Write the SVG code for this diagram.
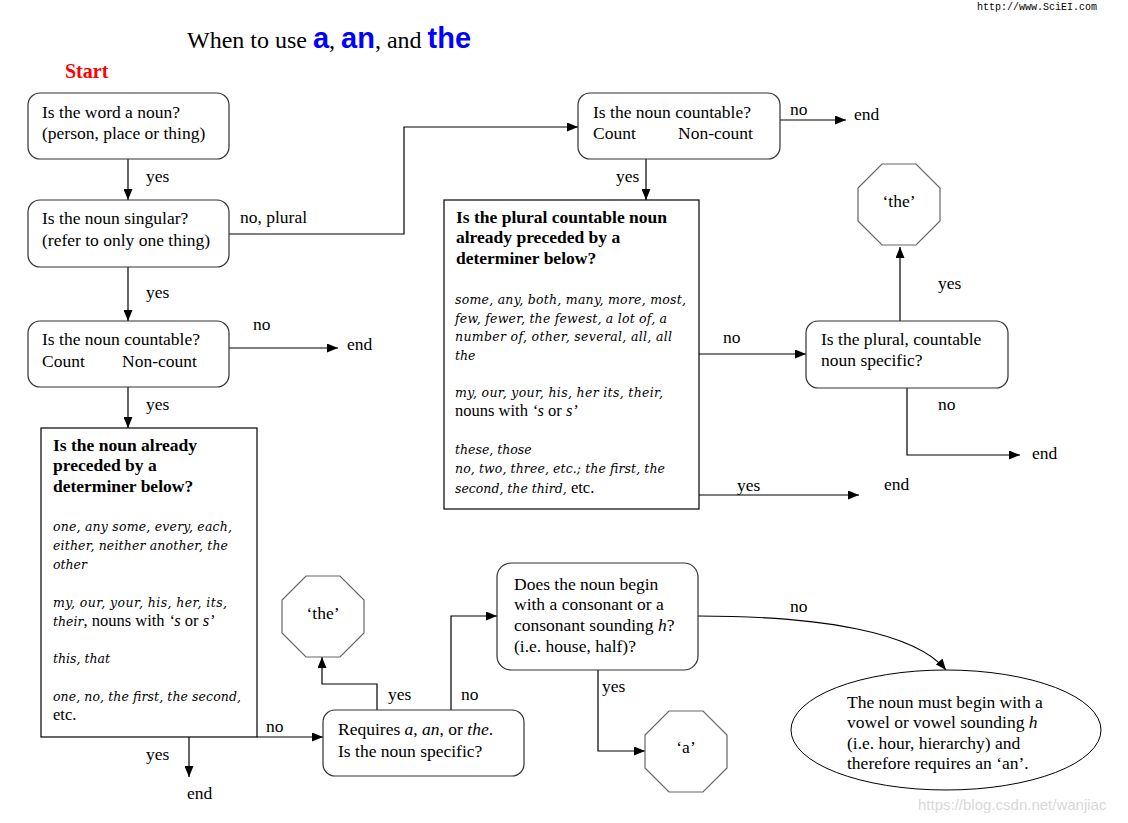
<svg xmlns="http://www.w3.org/2000/svg" width="1128" height="823" viewBox="0 0 1128 823">
<style>
.t{font-family:"Liberation Serif","Times New Roman",serif;font-size:17.5px;fill:#000}
.b{font-family:"Liberation Serif","Times New Roman",serif;font-size:17.5px;font-weight:bold;fill:#000}
.i{font-family:"DejaVu Serif",serif;font-style:italic;font-size:12.5px;fill:#000}
.r{font-family:"Liberation Serif","Times New Roman",serif;font-size:16.5px;fill:#000}
.ri{font-family:"Liberation Serif","Times New Roman",serif;font-size:16.5px;font-style:italic}
.box{fill:#fff;stroke:#333;stroke-width:1.2}
.sq{fill:#fff;stroke:#000;stroke-width:1.2}
.oct{fill:#fff;stroke:#666;stroke-width:1.2}
.c{fill:none;stroke:#000;stroke-width:1.2}
.blue{font-family:"Liberation Sans",Arial,sans-serif;font-weight:bold;font-size:29px;fill:#0000ff}
</style>
<defs>
<marker id="ah" markerWidth="11" markerHeight="9" refX="11" refY="4.5" orient="auto" markerUnits="userSpaceOnUse">
<path d="M0,0 L11,4.5 L0,9 Z" fill="#000"/>
</marker>
</defs>
<rect width="1128" height="823" fill="#fff"/>

<g id="title">
<text x="187" y="48" style="font-family:'Liberation Serif',serif;font-size:24px">When to use <tspan class="blue">a</tspan>, <tspan class="blue">an</tspan>, and <tspan class="blue">the</tspan></text>
<text x="65" y="78" style="font-family:'Liberation Serif',serif;font-size:20px;font-weight:bold;fill:#ff0000">Start</text>
<text x="977" y="10" style="font-family:'Liberation Mono',monospace;font-size:10px">http://www.SciEI.com</text>
<text x="918" y="810" style="font-family:'Liberation Sans',sans-serif;font-size:15px;fill:#d8d8d8">https://blog.csdn.net/wanjiac</text>
</g>

<g id="connectors">
<line class="c" x1="128" y1="159" x2="128" y2="200" marker-end="url(#ah)"/>
<polyline class="c" points="229,234 404,234 404,127 578,127" marker-end="url(#ah)"/>
<line class="c" x1="128" y1="267" x2="128" y2="321" marker-end="url(#ah)"/>
<line class="c" x1="229" y1="348" x2="338" y2="348" marker-end="url(#ah)"/>
<line class="c" x1="128" y1="387" x2="128" y2="428" marker-end="url(#ah)"/>
<line class="c" x1="257" y1="737" x2="323" y2="737" marker-end="url(#ah)"/>
<line class="c" x1="189" y1="737" x2="189" y2="777" marker-end="url(#ah)"/>
<polyline class="c" points="377,710 377,684 322,684 322,657" marker-end="url(#ah)"/>
<polyline class="c" points="451,710 451,616 497,616" marker-end="url(#ah)"/>
<polyline class="c" points="598,670 598,751 645,751" marker-end="url(#ah)"/>
<path class="c" d="M698,616 C820,616 915,632 946,670" marker-end="url(#ah)"/>
<line class="c" x1="780" y1="120" x2="846" y2="120" marker-end="url(#ah)"/>
<line class="c" x1="646" y1="159" x2="646" y2="200" marker-end="url(#ah)"/>
<line class="c" x1="699" y1="354" x2="806" y2="354" marker-end="url(#ah)"/>
<line class="c" x1="699" y1="495" x2="859" y2="495" marker-end="url(#ah)"/>
<line class="c" x1="900" y1="321" x2="900" y2="247" marker-end="url(#ah)"/>
<polyline class="c" points="907,388 907,455 1020,455" marker-end="url(#ah)"/>
</g>

<g id="labels">
<text class="t" x="146" y="182">yes</text>
<text class="t" x="240" y="223">no, plural</text>
<text class="t" x="146" y="298">yes</text>
<text class="t" x="253" y="330">no</text>
<text class="t" x="347" y="350">end</text>
<text class="t" x="146" y="410">yes</text>
<text class="t" x="266" y="732">no</text>
<text class="t" x="146" y="760">yes</text>
<text class="t" x="187" y="799">end</text>
<text class="t" x="388" y="700">yes</text>
<text class="t" x="461" y="700">no</text>
<text class="t" x="602" y="692">yes</text>
<text class="t" x="790" y="612">no</text>
<text class="t" x="790" y="115">no</text>
<text class="t" x="854" y="120">end</text>
<text class="t" x="616" y="182">yes</text>
<text class="t" x="723" y="343">no</text>
<text class="t" x="737" y="491">yes</text>
<text class="t" x="884" y="490">end</text>
<text class="t" x="938" y="289">yes</text>
<text class="t" x="938" y="410">no</text>
<text class="t" x="1032" y="459">end</text>
</g>

<g id="n-word-noun">
<rect class="box" x="28" y="93" width="201" height="66" rx="12"/>
<text class="t" x="42" y="118">Is the word a noun?</text>
<text class="t" x="42" y="139">(person, place or thing)</text>
</g>

<g id="n-singular">
<rect class="box" x="28" y="200" width="201" height="67" rx="12"/>
<text class="t" x="42" y="224">Is the noun singular?</text>
<text class="t" x="42" y="246">(refer to only one thing)</text>
</g>

<g id="n-countable-1">
<rect class="box" x="28" y="321" width="201" height="66" rx="12"/>
<text class="t" x="42" y="345">Is the noun countable?</text>
<text class="t" x="42" y="367">Count</text>
<text class="t" x="122" y="367">Non-count</text>
</g>

<g id="n-determiner-singular">
<rect class="sq" x="41" y="428" width="216" height="309"/>
<text class="b" x="53" y="451">Is the noun already</text>
<text class="b" x="53" y="471">preceded by a</text>
<text class="b" x="53" y="492">determiner below?</text>
<text class="i" x="53" y="531" textLength="179" lengthAdjust="spacing">one, any some, every, each,</text>
<text class="i" x="53" y="550" textLength="175" lengthAdjust="spacing">either, neither another, the</text>
<text class="i" x="53" y="569">other</text>
<text class="i" x="53" y="607" textLength="174" lengthAdjust="spacing">my, our, your, his, her, its,</text>
<text x="53" y="626"><tspan class="i">their</tspan><tspan class="r">, nouns with </tspan><tspan class="ri">‘s</tspan><tspan class="r"> or </tspan><tspan class="ri">s’</tspan></text>
<text class="i" x="53" y="663">this, that</text>
<text class="i" x="53" y="701" textLength="188" lengthAdjust="spacing">one, no, the first, the second,</text>
<text class="r" x="53" y="720">etc.</text>
</g>

<g id="n-requires">
<rect class="box" x="323" y="710" width="201" height="66" rx="12"/>
<text class="t" x="338" y="735">Requires <tspan font-style="italic">a</tspan>, <tspan font-style="italic">an</tspan>, or <tspan font-style="italic">the</tspan>.</text>
<text class="t" x="338" y="757">Is the noun specific?</text>
</g>

<g id="n-the-left">
<polygon class="oct" points="306,576 340,576 364,600 364,633 340,657 306,657 282,633 282,600"/>
<text class="t" x="323" y="619" text-anchor="middle">‘the’</text>
</g>

<g id="n-consonant">
<rect class="box" x="497" y="563" width="201" height="107" rx="14"/>
<text class="t" x="514" y="590">Does the noun begin</text>
<text class="t" x="514" y="610">with a consonant or a</text>
<text class="t" x="514" y="631">consonant sounding <tspan font-style="italic">h</tspan>?</text>
<text class="t" x="514" y="652">(i.e. house, half)?</text>
</g>

<g id="n-a">
<polygon class="oct" points="669,711 703,711 727,735 727,768 703,792 669,792 645,768 645,735"/>
<text class="t" x="686" y="753" text-anchor="middle">‘a’</text>
</g>

<g id="n-an">
<ellipse cx="946" cy="730" rx="155" ry="60" fill="#fff" stroke="#000" stroke-width="1"/>
<text class="t" x="847" y="708">The noun must begin with a</text>
<text class="t" x="847" y="728">vowel or vowel sounding <tspan font-style="italic">h</tspan></text>
<text class="t" x="847" y="749">(i.e. hour, hierarchy) and</text>
<text class="t" x="847" y="769">therefore requires an ‘an’.</text>
</g>

<g id="n-countable-2">
<rect class="box" x="578" y="93" width="202" height="66" rx="12"/>
<text class="t" x="593" y="118">Is the noun countable?</text>
<text class="t" x="593" y="139">Count</text>
<text class="t" x="678" y="139">Non-count</text>
</g>

<g id="n-determiner-plural">
<rect class="sq" x="444" y="200" width="255" height="309"/>
<text class="b" x="456" y="223">Is the plural countable noun</text>
<text class="b" x="456" y="243">already preceded by a</text>
<text class="b" x="456" y="264">determiner below?</text>
<text class="i" x="455" y="304" textLength="231" lengthAdjust="spacing">some, any, both, many, more, most,</text>
<text class="i" x="455" y="323" textLength="212" lengthAdjust="spacing">few, fewer, the fewest, a lot of, a</text>
<text class="i" x="455" y="341" textLength="217" lengthAdjust="spacing">number of, other, several, all, all</text>
<text class="i" x="455" y="360">the</text>
<text class="i" x="455" y="397" textLength="208" lengthAdjust="spacing">my, our, your, his, her its, their,</text>
<text x="455" y="416"><tspan class="r">nouns with </tspan><tspan class="ri">‘s</tspan><tspan class="r"> or </tspan><tspan class="ri">s’</tspan></text>
<text class="i" x="455" y="454">these, those</text>
<text class="i" x="455" y="473" textLength="210" lengthAdjust="spacing">no, two, three, etc.; the first, the</text>
<text x="455" y="493"><tspan class="i">second, the third,</tspan><tspan class="r"> etc.</tspan></text>
</g>

<g id="n-plural-specific">
<rect class="box" x="806" y="321" width="202" height="67" rx="12"/>
<text class="t" x="821" y="345">Is the plural, countable</text>
<text class="t" x="821" y="366">noun specific?</text>
</g>

<g id="n-the-right">
<polygon class="oct" points="882,164 916,164 940,188 940,221 916,245 882,245 858,221 858,188"/>
<text class="t" x="899" y="207" text-anchor="middle">‘the’</text>
</g>
</svg>
